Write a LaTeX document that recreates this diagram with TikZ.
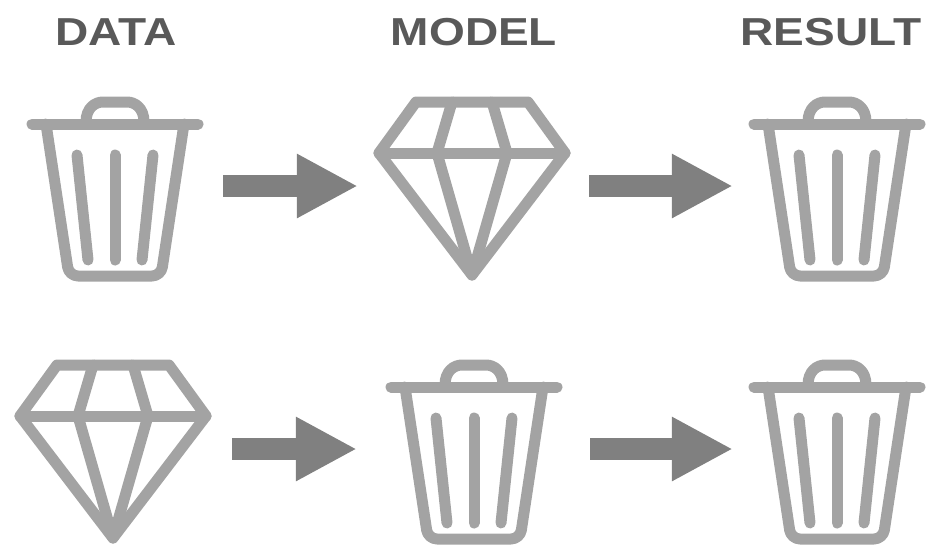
\documentclass[tikz,border=0pt]{standalone}
\usepackage{fontspec}
\setmainfont{Liberation Sans}
\usetikzlibrary{arrows.meta}
\definecolor{icongray}{HTML}{A3A3A3}
\definecolor{arrowgray}{HTML}{808080}
\definecolor{titlegray}{HTML}{595959}

\tikzset{
  pics/trashicon/.style={code={
    \draw[iconline] (-83,-62) -- (83,-62);
    \draw[iconline] (-29,-64) .. controls (-29,-78) and (-20,-84) .. (-12,-84) -- (12,-84) .. controls (20,-84) and (29,-78) .. (29,-64);
    \draw[iconline, rounded corners=9pt] (-69,-62) -- (-46,90) -- (46,90) -- (69,-62);
    \draw[iconline] (-38,-31) -- (-27,74);
    \draw[iconline] (0,-31) -- (0,74);
    \draw[iconline] (38,-31) -- (27,74);
  }},
  pics/gemicon/.style={code={
    \draw[iconline] (-56,-84) -- (56,-84) -- (93,-33) -- (0,89) -- (-93,-33) -- cycle;
    \draw[iconline] (-93,-33) -- (93,-33);
    \draw[iconline] (-20,-84) -- (-35,-33) -- (0,89) -- (35,-33) -- (20,-84);
  }}
}

\begin{document}
\begin{tikzpicture}[x=1pt, y=-1pt]
\tikzstyle{iconline} = [draw=icongray, line width=11pt, line join=round, line cap=round]
\tikzstyle{iconbox} = [minimum width=176pt, minimum height=186pt, inner sep=0pt]
\tikzstyle{gembox} = [minimum width=198pt, minimum height=186pt, inner sep=0pt]
\tikzstyle{title} = [text=titlegray, font=\fontsize{39}{39}\selectfont\bfseries\addfontfeature{FakeStretch=1.18}, inner sep=0pt]
\tikzstyle{flow} = [draw=arrowgray, line width=22pt, -{Triangle[length=61pt, width=60pt, fill=arrowgray]}]

\useasboundingbox (0,0) rectangle (929,547);

\node (titledata) [title] at (116,32) {DATA};
\node (titlemodel) [title] at (474,32) {MODEL};
\node (titleresult) [title] at (831,32) {RESULT};

\node (trashA) [iconbox] at (115,186) {};
\node (gemA) [gembox] at (472,186) {};
\node (trashB) [iconbox] at (837,186) {};
\node (gemB) [gembox] at (113,449) {};
\node (trashC) [iconbox] at (474,449) {};
\node (trashD) [iconbox] at (837,449) {};

\pic at (trashA) {trashicon};
\pic at (gemA) {gemicon};
\pic at (trashB) {trashicon};
\pic at (gemB) {gemicon};
\pic at (trashC) {trashicon};
\pic at (trashD) {trashicon};

\draw[flow, shorten <=20pt, shorten >=15pt] (trashA) -- (gemA);
\draw[flow, shorten <=18pt, shorten >=16pt] (gemA) -- (trashB);
\draw[flow, shorten <=20pt, shorten >=29pt] (gemB) -- (trashC);
\draw[flow, shorten <=28pt, shorten >=16pt] (trashC) -- (trashD);

\end{tikzpicture}
\end{document}
